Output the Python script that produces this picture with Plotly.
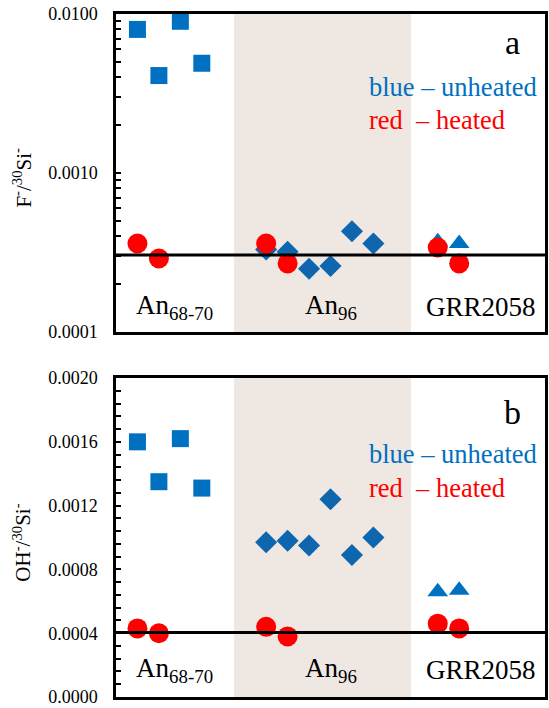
import plotly.graph_objects as go

# ---------------- data ----------------
# x positions (sample index along the axis)
sq_x = [1, 2, 3, 4]          # An68-70 unheated (squares)
ci1_x = [1, 2]               # An68-70 heated (circles)
dia_x = [7, 8, 9, 10, 11, 12]  # An96 unheated (diamonds)
ci2_x = [7, 8]               # An96 heated
tri_x = [15, 16]             # GRR2058 unheated (triangles)
ci3_x = [15, 16]             # GRR2058 heated

# panel a : F-/30Si-
a_sq = [0.0080, 0.0041, 0.0090, 0.0049]
a_ci1 = [0.00036, 0.00029]
a_dia = [0.00033, 0.00032, 0.00025, 0.00026, 0.00043, 0.00036]
a_ci2 = [0.00036, 0.00027]
a_tri = [0.00037, 0.00036]
a_ci3 = [0.00034, 0.00027]
a_ref = 0.000305

# panel b : OH-/30Si-
b_sq = [0.00160, 0.00135, 0.00162, 0.00131]
b_ci1 = [0.00043, 0.00040]
b_dia = [0.00097, 0.00098, 0.00095, 0.00124, 0.00089, 0.00100]
b_ci2 = [0.00044, 0.00038]
b_tri = [0.00066, 0.00067]
b_ci3 = [0.00046, 0.00043]
b_ref = 0.000405

band = [5.5, 13.75]
x_range = [0, 20]
groups = ["An<sub>68-70</sub>", "An<sub>96</sub>", "GRR2058"]
group_x = [2.75, 10.0, 17.0]

a_tickvals = [0.0001, 0.001, 0.01]
a_ticktext = ["0.0001", "0.0010", "0.0100"]
a_minor = [m * 10 ** e for e in (-4, -3) for m in range(2, 10)]

# ---------------- styles ----------------
BLUE = "#0070C0"
BLUE_D = "#0E66AE"
RED = "#FF0000"
FONT = "Liberation Serif, Times New Roman, serif"

fig = go.Figure()


def add_panel(xa, ya, sq, ci1, dia, ci2, tri, ci3, ref):
    fig.add_trace(go.Scatter(x=sq_x, y=sq, mode="markers", xaxis=xa, yaxis=ya,
                             marker=dict(symbol="square", size=17, color=BLUE, line=dict(width=0))))
    fig.add_trace(go.Scatter(x=dia_x, y=dia, mode="markers", xaxis=xa, yaxis=ya,
                             marker=dict(symbol="diamond", size=17, color=BLUE_D, line=dict(width=0))))
    fig.add_trace(go.Scatter(x=tri_x, y=tri, mode="markers", xaxis=xa, yaxis=ya,
                             marker=dict(symbol="triangle-up", size=18, color=BLUE, line=dict(width=0))))
    for cx, cy in ((ci1_x, ci1), (ci2_x, ci2), (ci3_x, ci3)):
        fig.add_trace(go.Scatter(x=cx, y=cy, mode="markers", xaxis=xa, yaxis=ya,
                                 marker=dict(symbol="circle", size=20, color=RED, line=dict(width=0))))
    fig.add_trace(go.Scatter(x=x_range, y=[ref, ref], mode="lines", xaxis=xa, yaxis=ya,
                             line=dict(color="black", width=3)))


add_panel("x", "y", a_sq, a_ci1, a_dia, a_ci2, a_tri, a_ci3, a_ref)
add_panel("x2", "y2", b_sq, b_ci1, b_dia, b_ci2, b_tri, b_ci3, b_ref)

# shaded An96 band
for xr, yr in (("x", "y domain"), ("x2", "y2 domain")):
    fig.add_shape(type="rect", xref=xr, yref=yr, x0=band[0], x1=band[1], y0=0, y1=1,
                  fillcolor="#EFE7E2", line=dict(width=0), layer="below")

axis_common = dict(showline=True, mirror=True, linecolor="black", linewidth=2.5,
                   showgrid=False, zeroline=False)

fig.update_layout(
    width=549, height=708,
    margin=dict(l=116, r=1, t=14, b=11),
    paper_bgcolor="white", plot_bgcolor="white",
    showlegend=False,
    font=dict(family=FONT, color="black"),
    xaxis=dict(domain=[0, 1], range=x_range, anchor="y", showticklabels=False, ticks="", **axis_common),
    xaxis2=dict(domain=[0, 1], range=x_range, anchor="y2", showticklabels=False, ticks="", **axis_common),
    yaxis=dict(domain=[0.5344, 1], type="log", range=[-4, -2], anchor="x",
               tickmode="array", tickvals=a_tickvals, ticktext=a_ticktext,
               ticks="inside", ticklen=5, tickwidth=2, tickcolor="black",
               tickfont=dict(size=18, family=FONT), ticklabelstandoff=12,
               minor=dict(tickmode="array", tickvals=a_minor, ticks="inside", ticklen=5,
                          tickwidth=2, tickcolor="black", showgrid=False),
               **axis_common),
    yaxis2=dict(domain=[0, 0.467], range=[0, 0.002], anchor="x2",
                tickmode="linear", tick0=0, dtick=0.0004, tickformat=".4f",
                ticks="inside", ticklen=5, tickwidth=2, tickcolor="black",
                tickfont=dict(size=18, family=FONT), ticklabelstandoff=12,
                minor=dict(dtick=0.00008, ticks="inside", ticklen=5, tickwidth=2,
                           tickcolor="black", showgrid=False),
                **axis_common),
)

ann = []
# panel letters and colour key
for xr, yr, letter, yl, yb, yr2, yg in (("x domain", "y domain", "a", 0.909, 0.770, 0.667, 0.079),
                                         ("x2 domain", "y2 domain", "b", 0.893, 0.762, 0.655, 0.085)):
    ann.append(dict(xref=xr, yref=yr, x=0.924, y=yl, text=letter, showarrow=False,
                    xanchor="center", yanchor="middle", font=dict(size=34, family=FONT, color="black")))
    ann.append(dict(xref=xr, yref=yr, x=0.586, y=yb, text="blue – unheated", showarrow=False,
                    xanchor="left", yanchor="middle", font=dict(size=26.5, family=FONT, color=BLUE)))
    ann.append(dict(xref=xr, yref=yr, x=0.586, y=yr2, text="red\u00a0\u00a0– heated", showarrow=False,
                    xanchor="left", yanchor="middle", font=dict(size=26.5, family=FONT, color=RED)))
    xa = xr.split()[0]
    for g, gx in zip(groups, group_x):
        ann.append(dict(xref=xa, yref=yr, x=gx, y=yg, text=g, showarrow=False,
                        xanchor="center", yanchor="middle", font=dict(size=27, family=FONT, color="black")))

# y-axis titles
ann.append(dict(xref="paper", yref="paper", x=-0.2176, y=0.76, textangle=-90,
                text="F<sup>-</sup>/<sup>30</sup>Si<sup>-</sup>", showarrow=False,
                xanchor="center", yanchor="middle", font=dict(size=21, family=FONT, color="black")))
ann.append(dict(xref="paper", yref="paper", x=-0.2176, y=0.2255, textangle=-90,
                text="OH<sup>-</sup>/<sup>30</sup>Si<sup>-</sup>", showarrow=False,
                xanchor="center", yanchor="middle", font=dict(size=21, family=FONT, color="black")))

fig.update_layout(annotations=ann)

fig.write_html("out.html",
               config={"displayModeBar": False},
               post_script="document.body.style.margin='0';document.body.style.padding='0';"
                           "document.body.style.overflow='hidden';")
